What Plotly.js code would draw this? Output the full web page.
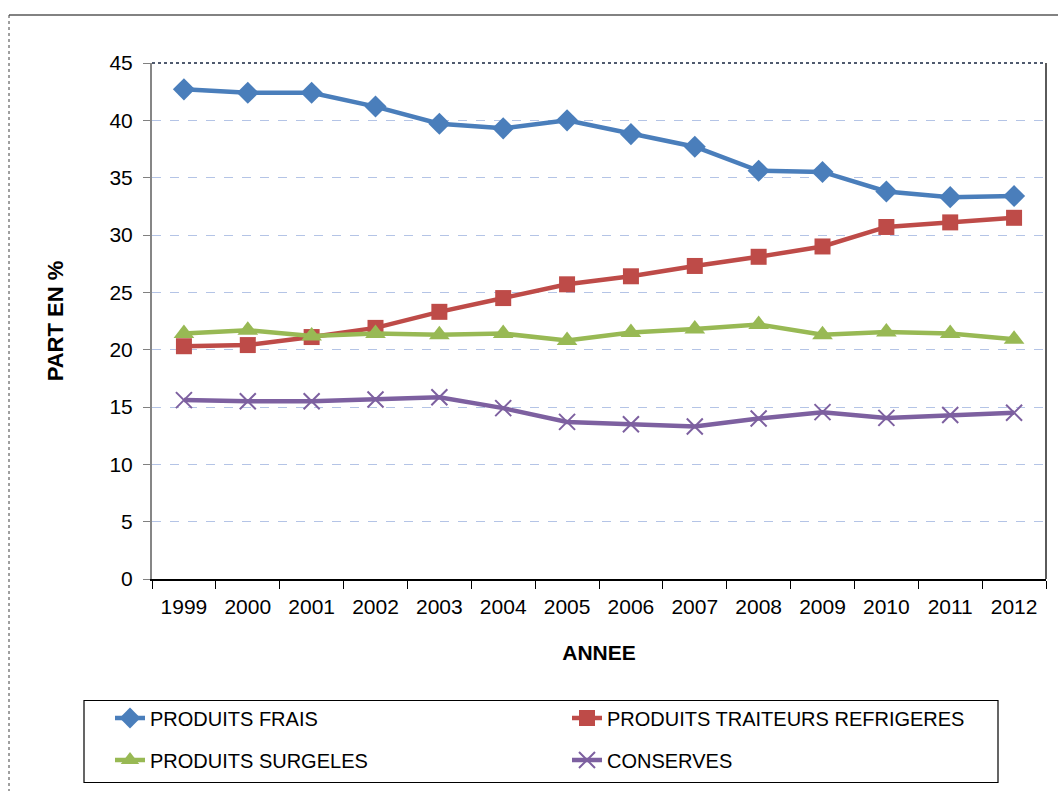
<!DOCTYPE html>
<html>
<head>
<meta charset="utf-8">
<script src="https://cdn.plot.ly/plotly-3.0.1.min.js"></script>
<style>
  html, body { margin: 0; padding: 0; background: #ffffff; }
  #chart { width: 1058px; height: 791px; }
</style>
</head>
<body>
<div id="chart"></div>
<script>
// ---- Data ----
const years = ["1999","2000","2001","2002","2003","2004","2005","2006","2007","2008","2009","2010","2011","2012"];
const produitsFrais = [42.7, 42.4, 42.4, 41.2, 39.7, 39.3, 40.0, 38.8, 37.7, 35.6, 35.5, 33.8, 33.3, 33.4];
const produitsTraiteurs = [20.3, 20.4, 21.1, 21.9, 23.3, 24.5, 25.7, 26.4, 27.3, 28.1, 29.0, 30.7, 31.1, 31.5];
const produitsSurgeles = [21.4, 21.7, 21.2, 21.4, 21.3, 21.4, 20.8, 21.5, 21.8, 22.2, 21.3, 21.55, 21.4, 20.9];
const conserves = [15.6, 15.5, 15.5, 15.65, 15.85, 14.9, 13.7, 13.5, 13.3, 14.0, 14.55, 14.05, 14.3, 14.5];
const seriesNames = ["PRODUITS FRAIS", "PRODUITS TRAITEURS REFRIGERES", "PRODUITS SURGELES", "CONSERVES"];
const yTitle = "PART EN %";
const xTitle = "ANNEE";

const FONT = "Liberation Sans, Arial, sans-serif";

// pixel helpers (plot area: x 152..1046, y 63..579)
const L = 152, R = 1046, T = 63, B = 579;
const px = v => (v - L) / (R - L);
const py = v => (B - v) / (B - T);

const traces = [
  { x: years, y: produitsFrais, name: seriesNames[0], type: 'scatter', mode: 'lines+markers',
    line: { color: '#4A7EBB', width: 4.5 }, marker: { symbol: 'diamond', size: 17, color: '#4A7EBB' },
    legend: 'legend' },
  { x: years, y: produitsTraiteurs, name: seriesNames[1], type: 'scatter', mode: 'lines+markers',
    line: { color: '#BE4B48', width: 4.5 }, marker: { symbol: 'square', size: 16, color: '#BE4B48' },
    legend: 'legend' },
  { x: years, y: produitsSurgeles, name: seriesNames[2], type: 'scatter', mode: 'lines+markers',
    line: { color: '#98B954', width: 4.5 }, marker: { symbol: 'triangle-up', size: 18, color: '#98B954' },
    legend: 'legend2' },
  { x: years, y: conserves, name: seriesNames[3], type: 'scatter', mode: 'lines+markers',
    line: { color: '#7D60A0', width: 4.5 },
    marker: { symbol: 'x-thin-open', size: 16, color: '#7D60A0', line: { color: '#7D60A0', width: 2 } },
    legend: 'legend2' }
];

const legendCommon = {
  orientation: 'h', xanchor: 'left', yanchor: 'middle',
  font: { family: FONT, size: 20, color: '#000' },
  bgcolor: 'rgba(0,0,0,0)', borderwidth: 0,
  entrywidth: 412, entrywidthmode: 'pixels',
  itemclick: false, itemdoubleclick: false, traceorder: 'normal'
};

const layout = {
  width: 1058, height: 791,
  margin: { l: L, r: 1058 - R, t: T, b: 791 - B, pad: 0 },
  paper_bgcolor: '#ffffff', plot_bgcolor: '#ffffff',
  font: { family: FONT, size: 21, color: '#000' },
  showlegend: true,
  legend: Object.assign({}, legendCommon, { x: px(110), y: py(718) }),
  legend2: Object.assign({}, legendCommon, { x: px(110), y: py(760) }),
  xaxis: {
    type: 'category', range: [-0.5, 13.5], tickson: 'boundaries',
    ticks: 'outside', ticklen: 8, tickwidth: 1, tickcolor: '#000',
    showline: true, linecolor: '#000', linewidth: 2,
    showgrid: false, zeroline: false,
    tickfont: { family: FONT, size: 21, color: '#000' },
    ticklabelstandoff: 8,
    title: { text: xTitle, font: { family: FONT, size: 21, color: '#000', weight: 'bold' }, standoff: 28 }
  },
  yaxis: {
    range: [0, 45], dtick: 5, tick0: 0,
    ticks: 'outside', ticklen: 7, tickwidth: 1, tickcolor: '#808080',
    showline: true, linecolor: '#868686', linewidth: 2,
    showgrid: true, gridcolor: '#B4C4E6', griddash: 'dash', gridwidth: 1,
    zeroline: false,
    tickfont: { family: FONT, size: 21, color: '#000' },
    ticklabelstandoff: 6,
    title: { text: yTitle, font: { family: FONT, size: 22, color: '#000', weight: 'bold' }, standoff: 40 }
  },
  shapes: [
    // plot area top border (dotted) and right border
    { type: 'line', xref: 'paper', yref: 'paper', x0: 0, x1: 1, y0: 1, y1: 1,
      line: { color: '#4F5A6E', width: 2, dash: 'dot' } },
    { type: 'line', xref: 'paper', yref: 'paper', x0: 1, x1: 1, y0: 0, y1: 1,
      line: { color: '#5A5A5A', width: 2 } },
    // outer chart border (top solid, left dashed)
    { type: 'line', xref: 'paper', yref: 'paper', x0: px(9), x1: px(1060), y0: py(15), y1: py(15),
      line: { color: '#595959', width: 1.5 } },
    { type: 'line', xref: 'paper', yref: 'paper', x0: px(9), x1: px(9), y0: py(15), y1: py(795),
      line: { color: '#404040', width: 1, dash: 'dot' } },
    // legend box
    { type: 'rect', xref: 'paper', yref: 'paper', x0: px(84), x1: px(998), y0: py(700.5), y1: py(782.5),
      line: { color: '#000', width: 1.2 }, fillcolor: 'rgba(0,0,0,0)' }
  ]
};

Plotly.newPlot('chart', traces, layout, { staticPlot: true, displayModeBar: false });
</script>
</body>
</html>
